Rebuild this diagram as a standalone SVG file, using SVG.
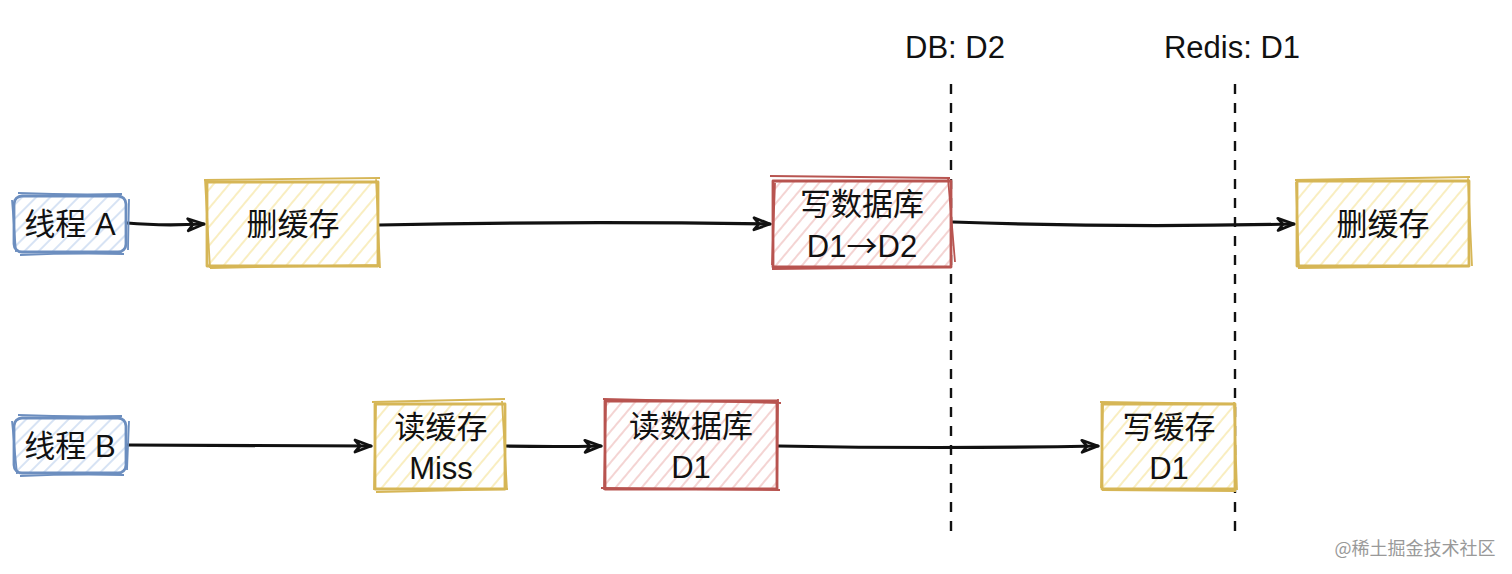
<svg xmlns="http://www.w3.org/2000/svg" width="1512" height="574" viewBox="0 0 1512 574">
<style>
.t{font-family:"Liberation Sans","Noto Sans CJK SC",sans-serif;font-size:31px;fill:#111;text-anchor:middle}
.arr{font-family:"Noto Sans CJK SC",sans-serif}
.blue{stroke:#6c8ebf;fill:url(#hb)}
.yel{stroke:#d6b656;fill:url(#hy)}
.red{stroke:#b85450;fill:url(#hr)}
.box{stroke-width:2.8;stroke-linejoin:round}
.sk{fill:none;stroke-width:1.8}
.conn path{fill:none;stroke:#111;stroke-width:3.2;stroke-linecap:round}
.dash{stroke:#111;stroke-width:2.4;stroke-dasharray:10 9;fill:none}
</style>
<defs>
<pattern id="hb" width="10" height="10" patternUnits="userSpaceOnUse" patternTransform="rotate(-45)">
<rect width="10" height="10" fill="#fff"/><line x1="0" y1="5" x2="10" y2="5" stroke="#c2d4ee" stroke-width="1.3"/></pattern>
<pattern id="hy" width="12" height="12" patternUnits="userSpaceOnUse" patternTransform="rotate(-50)">
<rect width="12" height="12" fill="#fff"/><line x1="0" y1="6" x2="12" y2="6" stroke="#f8e9ad" stroke-width="1.5"/></pattern>
<pattern id="hr" width="10" height="10" patternUnits="userSpaceOnUse" patternTransform="rotate(-50)">
<rect width="10" height="10" fill="#fff"/><line x1="0" y1="5" x2="10" y2="5" stroke="#efbdbb" stroke-width="1.3"/></pattern>
<marker id="ah" viewBox="0 0 20 16" refX="18" refY="8" markerWidth="20" markerHeight="16" markerUnits="userSpaceOnUse" orient="auto">
<path d="M2,2 L18,8 L2,14 L7,8 Z" fill="none" stroke="#111" stroke-width="2.8" stroke-linejoin="round"/></marker>
</defs>
<rect width="1512" height="574" fill="#fff"/>

<g id="lines">
<line class="dash" x1="951" y1="84" x2="951" y2="532"/>
<line class="dash" x1="1235" y1="84" x2="1235" y2="532"/>
<text class="t" x="955" y="58">DB: D2</text>
<text class="t" x="1232" y="58">Redis: D1</text>
</g>

<g class="conn" id="connectors">
<path d="M127,223 Q160,226 204,224" marker-end="url(#ah)"/>
<path d="M379,225 Q570,221 770,224" marker-end="url(#ah)"/>
<path d="M953,222 Q1120,228 1294,224" marker-end="url(#ah)"/>
<path d="M127,445 Q250,446 371,446" marker-end="url(#ah)"/>
<path d="M506,446 Q555,447 601,446" marker-end="url(#ah)"/>
<path d="M778,446 Q940,449 1098,446" marker-end="url(#ah)"/>
</g>

<g id="threadA">
<rect class="box blue" x="14" y="196" width="112" height="56" rx="8"/>
<path class="sk" stroke="#6c8ebf" d="M18,193 Q70,195 122,194 M129,199 L128,250 M12,200 L16,252 M20,255 Q70,253 124,254"/>
<text class="t" x="70" y="235">线程 A</text>
</g>
<g id="delCache1">
<rect class="box yel" x="207" y="182" width="171" height="84"/>
<path class="sk" stroke="#d6b656" d="M204,180 L380,178 M376,178 L380,268 M210,268 L380,265 M205,180 L210,268"/>
<text class="t" x="293" y="235">删缓存</text>
</g>
<g id="writeDB">
<rect class="box red" x="773" y="181" width="178" height="86"/>
<path class="sk" stroke="#b85450" d="M770,176 L950,178 M948,178 L955,262 M772,269 L950,267 M775,183 L772,265"/>
<text class="t" x="862" y="215">写数据库</text>
<text class="t" x="862" y="257">D1<tspan class="arr">→</tspan>D2</text>
</g>
<g id="delCache2">
<rect class="box yel" x="1297" y="181" width="172" height="85"/>
<path class="sk" stroke="#d6b656" d="M1295,180 L1470,177 M1468,178 L1472,266 M1298,268 L1470,266 M1296,182 L1299,266"/>
<text class="t" x="1383" y="235">删缓存</text>
</g>

<g id="threadB">
<rect class="box blue" x="14" y="418" width="112" height="55" rx="8"/>
<path class="sk" stroke="#6c8ebf" d="M18,415 Q70,417 122,416 M129,421 L127,470 M12,421 L17,474 M20,476 Q70,474 124,475"/>
<text class="t" x="70" y="457">线程 B</text>
</g>
<g id="readCache">
<rect class="box yel" x="375" y="404" width="130" height="85"/>
<path class="sk" stroke="#d6b656" d="M372,402 L505,399 M502,401 L507,490 M376,492 L508,489 M376,404 L374,490"/>
<text class="t" x="441" y="438">读缓存</text>
<text class="t" x="441" y="479">Miss</text>
</g>
<g id="readDB">
<rect class="box red" x="605" y="401" width="172" height="88"/>
<path class="sk" stroke="#b85450" d="M603,399 L781,403 M778,399 L777,490 M601,488 L780,490 M606,401 L604,490"/>
<text class="t" x="691" y="437">读数据库</text>
<text class="t" x="691" y="478">D1</text>
</g>
<g id="writeCache">
<rect class="box yel" x="1102" y="404" width="133" height="85"/>
<path class="sk" stroke="#d6b656" d="M1100,402 L1236,404 M1234,402 L1237,490 M1102,490 L1236,491 M1103,404 L1101,488"/>
<text class="t" x="1169" y="438">写缓存</text>
<text class="t" x="1169" y="479">D1</text>
</g>

<text x="1415" y="555" font-family="'Noto Sans CJK SC',sans-serif" font-size="18" fill="#999" text-anchor="middle">@稀土掘金技术社区</text>
</svg>
